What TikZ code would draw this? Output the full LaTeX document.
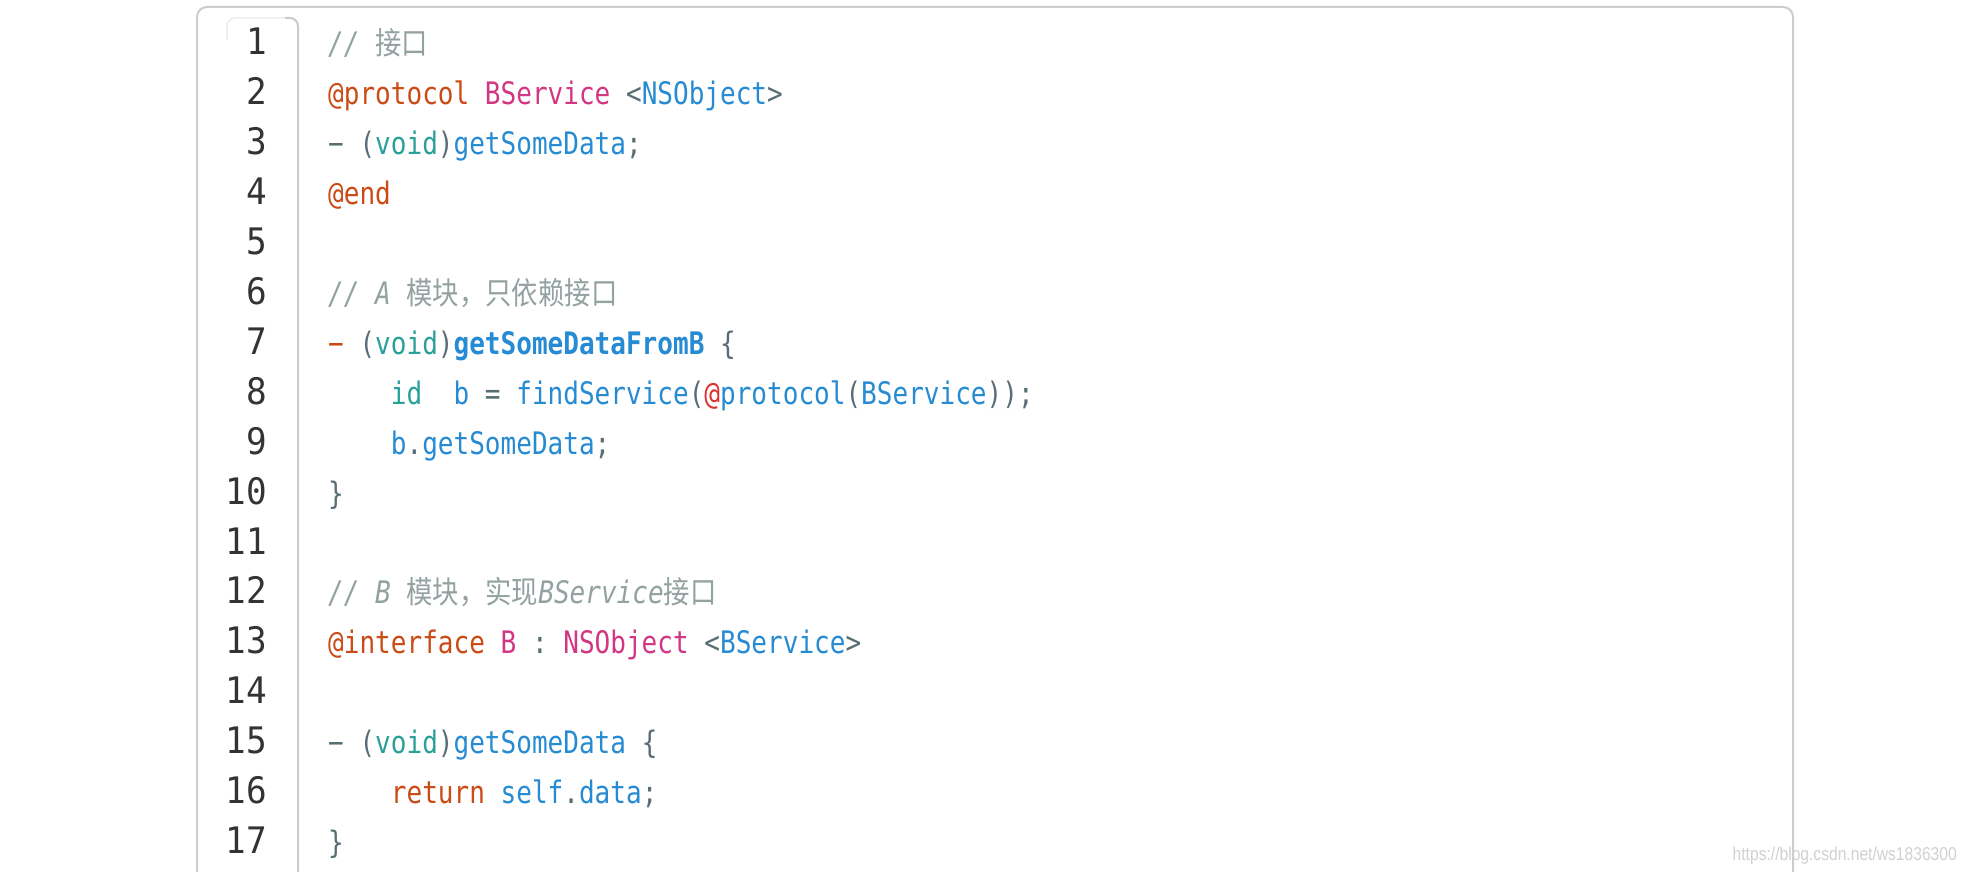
\documentclass[tikz,border=0pt]{standalone}
\usepackage{fontspec}
\setmainfont{DejaVu Sans Mono}
\newfontfamily\codefont{DejaVu Sans Mono}[FakeStretch=0.84]
\newfontfamily\numfont{DejaVu Sans Mono}[FakeStretch=0.94]
\newfontfamily\cjkfont{Noto Sans CJK SC}[FakeStretch=0.85]
\newfontfamily\wmfont{Liberation Sans}[FakeStretch=0.84]
\definecolor{kwc}{HTML}{CB4B16}
\definecolor{mgc}{HTML}{D33682}
\definecolor{blc}{HTML}{268BD2}
\definecolor{cyc}{HTML}{2AA198}
\definecolor{puc}{HTML}{586E75}
\definecolor{rdc}{HTML}{DC322F}
\definecolor{cmc}{HTML}{93A1A1}
\definecolor{numc}{HTML}{333333}
\definecolor{boxc}{HTML}{CCCCCC}
\newcommand\cKw[1]{\textcolor{kwc}{#1}}
\newcommand\cMg[1]{\textcolor{mgc}{#1}}
\newcommand\cBl[1]{\textcolor{blc}{#1}}
\newcommand\cCy[1]{\textcolor{cyc}{#1}}
\newcommand\cRd[1]{\textcolor{rdc}{#1}}
\newcommand\cCm[1]{{\color{cmc}\itshape #1}}
\tikzset{
  codeline/.style={anchor=base west, inner sep=0pt, text=puc,
    font=\codefont\fontsize{31}{31}\selectfont},
  lnum/.style={anchor=base east, inner sep=0pt, text=numc,
    font=\numfont\fontsize{36.5}{36.5}\selectfont},
  boxline/.style={draw=boxc, line width=2pt},
  gutline/.style={draw=boxc, line width=2pt},
  gutfaint/.style={draw=black!7, line width=1.5pt},
}
\begin{document}
\begin{tikzpicture}[x=1pt,y=-1pt]
\useasboundingbox[fill=white] (0,0) rectangle (1966,872);
% outer box
\draw[boxline, rounded corners=10pt] (197,900) -- (197,7) -- (1793,7) -- (1793,900);
% gutter
\draw[gutfaint, rounded corners=8pt] (227,40) -- (227,18) -- (298,18) -- (298,40);
\draw[gutline, rounded corners=8pt] (285,18) -- (298,18) -- (298,900);
% line numbers
\foreach \n in {1,...,17}{
  \node[lnum] (n\n) at (267,{55+(\n-1)*49.9}) {\n};
}
% code
\node[codeline] (c1) at (328,55) {\cCm{//\ {\cjkfont 接口}}};
\node[codeline] (c2) at (328,104.9) {\cKw{@protocol}\ \cMg{BService}\ <\cBl{NSObject}>};
\node[codeline] (c3) at (328,154.8) {−\ (\cCy{void})\cBl{getSomeData};};
\node[codeline] (c4) at (328,204.7) {\cKw{@end}};
\node[codeline] (c6) at (328,304.5) {\cCm{//\ A\ {\cjkfont 模块，只依赖接口}}};
\node[codeline] (c7) at (328,354.4) {\cKw{−}\ (\cCy{void})\cBl{\bfseries getSomeDataFromB}\ \{};
\node[codeline] (c8) at (328,404.3) {\ \ \ \ \cCy{id}\ \ \cBl{b}\ =\ \cBl{findService}(\cRd{@}\cBl{protocol}(\cBl{BService}));};
\node[codeline] (c9) at (328,454.2) {\ \ \ \ \cBl{b}.\cBl{getSomeData};};
\node[codeline] (c10) at (328,504.1) {\}};
\node[codeline] (c12) at (328,603.9) {\cCm{//\ B\ {\cjkfont 模块，实现}BService{\cjkfont 接口}}};
\node[codeline] (c13) at (328,653.8) {\cKw{@interface}\ \cMg{B}\ :\ \cMg{NSObject}\ <\cBl{BService}>};
\node[codeline] (c15) at (328,753.6) {−\ (\cCy{void})\cBl{getSomeData}\ \{};
\node[codeline] (c16) at (328,803.5) {\ \ \ \ \cKw{return}\ \cBl{self}.\cBl{data};};
\node[codeline] (c17) at (328,853.4) {\}};
% watermark
\node[anchor=base east, inner sep=0pt, text=black!18,
  font=\wmfont\fontsize{18.6}{18.6}\selectfont] (wm) at (1957,860) {https://blog.csdn.net/ws1836300};
\end{tikzpicture}
\end{document}
